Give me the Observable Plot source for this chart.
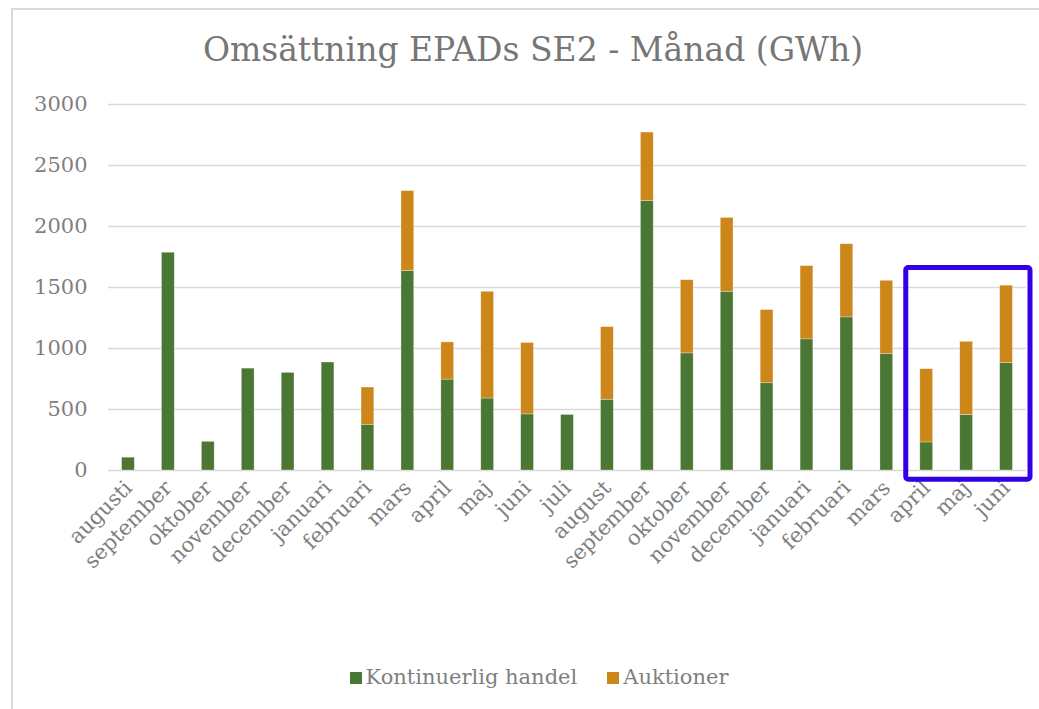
<!DOCTYPE html>
<html>
<head>
<meta charset="utf-8">
<script src="https://cdn.jsdelivr.net/npm/d3@7"></script>
<script src="https://cdn.jsdelivr.net/npm/@observablehq/plot@0.6"></script>
<style>
  html, body { margin: 0; padding: 0; background: #fff; }
  body { width: 1039px; height: 709px; position: relative; overflow: hidden; font-family: "DejaVu Serif", serif; }
  #frame { position: absolute; left: 11px; top: 8px; width: 1100px; height: 800px; border: 2px solid #d9d9d9; box-sizing: border-box; }
  #title { position: absolute; left: 0; top: 28px; width: 1066px; text-align: center; font-size: 33px; color: #767676; line-height: 44px; white-space: nowrap; }
  #chart { position: absolute; left: 0; top: 90px; }
  #chart g[aria-label="x-axis tick label"] text { font-size: 21px; }
  #chart g[aria-label="y-axis tick label"] text { font-size: 21px; }
  #legend { position: absolute; left: 0; top: 665px; width: 1078px; text-align: center; font-size: 21px; color: #7f7f7f; white-space: nowrap; }
  #legend span.item { display: inline-block; margin: 0 15px; }
  #legend span.sw { display: inline-block; width: 12px; height: 12px; margin-right: 4px; vertical-align: 0px; }
</style>
</head>
<body>
<div id="frame"></div>
<div id="title">Omsättning EPADs SE2 - Månad (GWh)</div>
<div id="chart"></div>
<div id="legend"></div>
<script>
const months = ["augusti","september","oktober","november","december","januari","februari","mars","april","maj","juni","juli","august","september","oktober","november","december","januari","februari","mars","april","maj","juni"];
const kontinuerlig = [105,1785,235,835,800,885,375,1635,745,590,460,455,580,2210,960,1465,715,1075,1255,955,230,455,880];
const auktioner = [0,0,0,0,0,0,305,655,305,875,585,0,595,560,600,605,600,600,600,600,600,600,635];
const seriesNames = ["Kontinuerlig handel", "Auktioner"];
const seriesColors = ["#4b7734", "#cc8619"];
const yTicks = [0, 500, 1000, 1500, 2000, 2500, 3000];
const highlightMonths = [20, 21, 22];
const highlightRange = [-75, 1660];

const table = [];
months.forEach((m, i) => {
  table.push({i, series: seriesNames[0], value: kontinuerlig[i]});
  table.push({i, series: seriesNames[1], value: auktioner[i]});
});

const highlightBox = (index, {x, y}) => {
  const step = x.step();
  const bw = x.bandwidth();
  const c0 = x(highlightMonths[0]) + bw / 2;
  const c1 = x(highlightMonths[highlightMonths.length - 1]) + bw / 2;
  const x0 = c0 - step / 2 - 0.5;
  const x1 = c1 + step / 2 + 4;
  const y0 = y(highlightRange[1]);
  const y1 = y(highlightRange[0]);
  const g = d3.create("svg:g");
  g.append("rect")
    .attr("x", x0).attr("y", y0)
    .attr("width", x1 - x0).attr("height", y1 - y0)
    .attr("rx", 2.5)
    .attr("fill", "none")
    .attr("stroke", "#3300e6")
    .attr("stroke-width", 5);
  return g.node();
};

const chart = Plot.plot({
  width: 1039,
  height: 560,
  marginTop: 14,
  marginBottom: 180,
  marginLeft: 108,
  marginRight: 13,
  style: { fontFamily: "DejaVu Serif, serif", fontSize: "20px", color: "#7f7f7f", background: "transparent" },
  x: {
    type: "band",
    domain: d3.range(months.length),
    paddingInner: 0.68,
    paddingOuter: 0.34,
    round: false,
    tickFormat: i => months[i],
    tickRotate: -45,
    tickSize: 0,
    tickPadding: 14,
    label: null
  },
  y: {
    domain: [0, 3000],
    ticks: yTicks,
    tickFormat: d => String(d),
    tickSize: 0,
    tickPadding: 21,
    label: null
  },
  color: { domain: seriesNames, range: seriesColors },
  marks: [
    Plot.ruleY(yTicks, { stroke: "#d9d9d9", strokeWidth: 1.5 }),
    Plot.barY(table, { x: "i", y: "value", fill: "series", stroke: "#ffffff", strokeWidth: 0.6, strokeOpacity: 0.5 }),
    highlightBox
  ]
});
document.getElementById("chart").appendChild(chart);

const legend = document.getElementById("legend");
seriesNames.forEach((name, k) => {
  const item = document.createElement("span");
  item.className = "item";
  const sw = document.createElement("span");
  sw.className = "sw";
  sw.style.background = seriesColors[k];
  item.appendChild(sw);
  item.appendChild(document.createTextNode(name));
  legend.appendChild(item);
});
</script>
</body>
</html>
